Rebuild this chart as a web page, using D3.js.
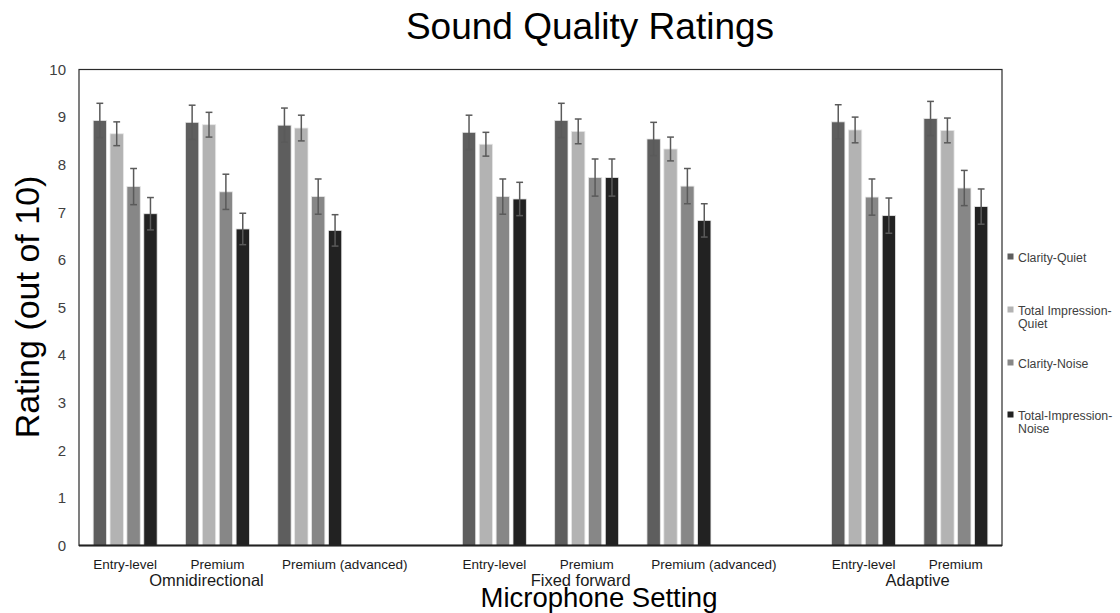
<!DOCTYPE html>
<html>
<head>
<meta charset="utf-8">
<script src="https://cdn.jsdelivr.net/npm/d3@7/dist/d3.min.js"></script>
<style>
  html, body { margin: 0; padding: 0; background: #fff; }
  svg { display: block; }
  text { font-family: "Liberation Sans", Arial, sans-serif; }
</style>
</head>
<body>
<svg id="chart" width="1120" height="613"></svg>
<script>
// ---- data ----
const slots = ["omni-entry","omni-premium","omni-adv","gap1","fixed-entry","fixed-premium","fixed-adv","gap2","adapt-entry","adapt-premium"];
const categoryLabels = ["Entry-level","Premium","Premium (advanced)","","Entry-level","Premium","Premium (advanced)","","Entry-level","Premium"];
const groupNames = ["Omnidirectional","Fixed forward","Adaptive"];
const groupSlots = [["omni-entry","omni-premium","omni-adv"],["fixed-entry","fixed-premium","fixed-adv"],["adapt-entry","adapt-premium"]];
const seriesNames = ["Clarity-Quiet","Total Impression-Quiet","Clarity-Noise","Total-Impression-Noise"];
const clarityQuiet        = [8.93, 8.89, 8.83, null, 8.68, 8.93, 8.54, null, 8.90, 8.97];
const totalImpQuiet       = [8.65, 8.84, 8.77, null, 8.43, 8.70, 8.33, null, 8.73, 8.72];
const clarityNoise        = [7.54, 7.43, 7.33, null, 7.33, 7.73, 7.55, null, 7.32, 7.51];
const totalImpNoise       = [6.97, 6.65, 6.62, null, 7.28, 7.73, 6.83, null, 6.93, 7.12];
const clarityQuietErr     = [0.36, 0.36, 0.36, null, 0.36, 0.36, 0.35, null, 0.36, 0.36];
const totalImpQuietErr    = [0.25, 0.26, 0.27, null, 0.25, 0.26, 0.25, null, 0.27, 0.26];
const clarityNoiseErr     = [0.38, 0.37, 0.37, null, 0.37, 0.39, 0.37, null, 0.38, 0.37];
const totalImpNoiseErr    = [0.34, 0.33, 0.33, null, 0.35, 0.39, 0.35, null, 0.37, 0.37];
const yTicks = [0,1,2,3,4,5,6,7,8,9,10];

// ---- layout ----
const colors = ["#5e5e5e", "#b3b3b3", "#878787", "#222222"];
const values = [clarityQuiet, totalImpQuiet, clarityNoise, totalImpNoise];
const errors = [clarityQuietErr, totalImpQuietErr, clarityNoiseErr, totalImpNoiseErr];
const plot = { left: 79, right: 1002, top: 69.5, bottom: 545.5 };

const svg = d3.select("#chart");

const x0 = d3.scaleBand().domain(slots).range([plot.left, plot.right]).paddingInner(0.307).paddingOuter(0.1535);
const x1 = d3.scaleBand().domain(seriesNames).range([0, x0.bandwidth()]).paddingInner(0.21);
const y = d3.scaleLinear().domain([0, 10]).range([plot.bottom, plot.top]);

// bars
const barData = [];
slots.forEach((s, i) => {
  seriesNames.forEach((n, k) => {
    if (values[k][i] != null) barData.push({ slot: s, series: n, k, v: values[k][i], e: errors[k][i] });
  });
});

svg.append("g").selectAll("rect").data(barData).join("rect")
  .attr("x", d => x0(d.slot) + x1(d.series))
  .attr("y", d => y(d.v))
  .attr("width", x1.bandwidth())
  .attr("height", d => y(0) - y(d.v))
  .attr("fill", d => colors[d.k])
  .attr("stroke", "#e6e6e6")
  .attr("stroke-width", 0.8);

// error bars
const eg = svg.append("g").attr("stroke", "#5a5a5a").attr("stroke-width", 1.5).attr("fill", "none");
barData.forEach(d => {
  const cx = x0(d.slot) + x1(d.series) + x1.bandwidth() / 2;
  const capW = 3.4;
  eg.append("line").attr("x1", cx).attr("x2", cx).attr("y1", y(d.v + d.e)).attr("y2", y(d.v - d.e));
  eg.append("line").attr("x1", cx - capW).attr("x2", cx + capW).attr("y1", y(d.v + d.e)).attr("y2", y(d.v + d.e));
  eg.append("line").attr("x1", cx - capW).attr("x2", cx + capW).attr("y1", y(d.v - d.e)).attr("y2", y(d.v - d.e));
});

// frame
svg.append("rect")
  .attr("x", plot.left).attr("y", plot.top)
  .attr("width", plot.right - plot.left).attr("height", plot.bottom - plot.top)
  .attr("fill", "none").attr("stroke", "#2a2a2a").attr("stroke-width", 1.2);
svg.append("line").attr("x1", plot.left).attr("x2", plot.right).attr("y1", plot.bottom).attr("y2", plot.bottom)
  .attr("stroke", "#222").attr("stroke-width", 1.8);

// y axis (labels only)
const yAxis = d3.axisLeft(y).tickValues(yTicks).tickSize(0).tickPadding(13);
const yg = svg.append("g").attr("transform", `translate(${plot.left},0)`).call(yAxis);
yg.select(".domain").remove();
yg.selectAll("text").attr("font-family", "Lato, 'Open Sans', sans-serif").attr("font-size", 15).attr("fill", "#404040");

// x category labels
const xAxis = d3.axisBottom(x0).tickSize(0).tickPadding(0).tickFormat((d, i) => categoryLabels[i]);
const xg = svg.append("g").attr("transform", `translate(0,${plot.bottom})`).call(xAxis);
xg.select(".domain").remove();
xg.selectAll("text")
  .attr("font-size", 13.5).attr("fill", "#1a1a1a")
  .attr("y", 23.5).attr("dy", 0)
  .attr("dx", (d, i) => categoryLabels[i].indexOf("(") >= 0 ? 35 : 0);

// group labels
const groupDx = [-11, -6, 8];
groupNames.forEach((g, gi) => {
  const ss = groupSlots[gi];
  const cx = (x0(ss[0]) + x0(ss[ss.length - 1]) + x0.bandwidth()) / 2 + groupDx[gi];
  svg.append("text").attr("x", cx).attr("y", 585.5).attr("text-anchor", "middle")
    .attr("font-size", 16.5).attr("fill", "#1a1a1a").text(g);
});

// titles
svg.append("text").attr("x", 590).attr("y", 39).attr("text-anchor", "middle")
  .attr("font-size", 37).attr("fill", "#000").text("Sound Quality Ratings");
svg.append("text").attr("x", 599).attr("y", 607).attr("text-anchor", "middle")
  .attr("font-size", 27.5).attr("fill", "#000").text("Microphone Setting");
svg.append("text").attr("transform", "translate(39,307) rotate(-90)").attr("text-anchor", "middle")
  .attr("font-size", 34).attr("fill", "#000").text("Rating (out of 10)");

// legend
const legendItems = [
  { lines: ["Clarity-Quiet"], y: 257 },
  { lines: ["Total Impression-", "Quiet"], y: 310 },
  { lines: ["Clarity-Noise"], y: 363 },
  { lines: ["Total-Impression-", "Noise"], y: 415 }
];
const lg = svg.append("g");
legendItems.forEach((it, i) => {
  lg.append("rect").attr("x", 1007.5).attr("y", it.y - 3.5).attr("width", 6).attr("height", 6).attr("fill", colors[i]);
  it.lines.forEach((t, j) => {
    lg.append("text").attr("x", 1018).attr("y", it.y + 4.5 + j * 13.5)
      .attr("font-size", 12.3).attr("fill", "#404040").text(t);
  });
});
</script>
</body>
</html>
